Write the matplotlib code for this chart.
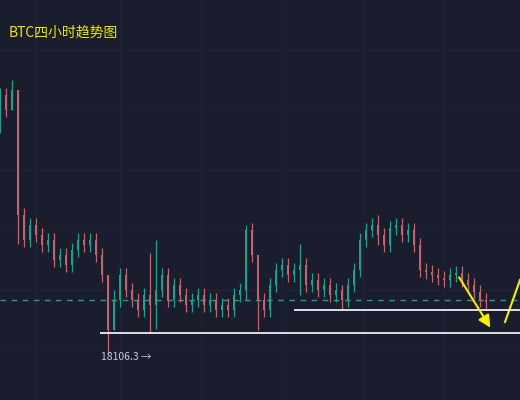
import matplotlib.pyplot as plt

plt.rcParams['font.family'] = ['Noto Sans CJK SC', 'DejaVu Sans']

# 4h closes, open = previous close
closes = [19406, 19331, 19431, 18806, 18681, 18756, 18706, 18656, 18681, 18581,
          18606, 18556, 18631, 18681, 18656, 18681, 18606, 18506, 18231, 18381,
          18506, 18431, 18381, 18331, 18406, 18356, 18431, 18506, 18381, 18456,
          18406, 18356, 18381, 18406, 18356, 18381, 18331, 18356, 18331, 18406,
          18431, 18731, 18606, 18381, 18331, 18456, 18531, 18556, 18506, 18531,
          18556, 18456, 18481, 18431, 18456, 18406, 18431, 18381, 18456, 18531,
          18681, 18731, 18756, 18706, 18656, 18741, 18756, 18706, 18731, 18656,
          18531, 18521, 18506, 18491, 18481, 18506, 18516, 18481, 18456, 18421,
          18381, 18371]
first_open = 19250
# notable wicks: index -> (high, low)
spikes = {2: (19481, 19331), 3: (19431, 18661), 18: (18506, 18106), 19: (18431, 18231),
          25: (18616, 18216), 26: (18681, 18236), 41: (18756, 18381), 43: (18406, 18231),
          50: (18661, 18406), 57: (18456, 18331), 63: (18806, 18656), 66: (18791, 18706)}
wick = 35

support_low = 18216
support_high = 18331
last_price = 18381
low_label = "18106.3 →"

bg = '#1a1d2e'
up_c = '#1fa08a'
dn_c = '#c0666a'

fig = plt.figure(figsize=(5.2, 4), dpi=100)
ax = fig.add_axes([0, 0, 1, 1])
ax.set_facecolor(bg)
fig.patch.set_facecolor(bg)
ax.set_xlim(0, 86.7)
ax.set_ylim(17881, 19881)

for gx in [6, 20, 33.5, 47, 60.5, 74]:
    ax.axvline(gx, color='#20243a', lw=0.7, zorder=0)
for gy in [18131, 18431, 18731, 19031, 19331, 19631]:
    ax.axhline(gy, color='#20243a', lw=0.7, zorder=0)

opens = [first_open] + closes[:-1]
for i, (o, c) in enumerate(zip(opens, closes)):
    col = up_c if c >= o else dn_c
    hi, lo = spikes.get(i, (max(o, c) + wick, min(o, c) - wick))
    ax.vlines(i, lo, hi, color=col, lw=0.9, zorder=2)
    ax.bar(i, max(abs(c - o), 6), bottom=min(o, c), width=0.4, color=col, zorder=2)

ax.axhline(last_price, color='#1fa08a', lw=1, ls=(0, (4, 4)), zorder=1)
ax.hlines(support_low, 16.7, 86.7, color='white', lw=1.2, zorder=3)
ax.hlines(support_high, 49, 86.7, color='white', lw=1.2, zorder=3)

ax.annotate('', xy=(82, 18231), xytext=(76.3, 18506),
            arrowprops=dict(arrowstyle='-|>', color='#f5f000', lw=1.5, mutation_scale=18))
ax.plot([84.2, 86.7], [18271, 18481], color='#f5f000', lw=1.5)

ax.text(16.8, 18096, low_label, color='#c8cce0', fontsize=7.5, va='center')
fig.text(0.016, 0.918, 'BTC四小时趋势图', color='#f0e800', fontsize=10, va='center')
ax.axis('off')

fig.savefig('out.png', dpi=100, facecolor=bg)
